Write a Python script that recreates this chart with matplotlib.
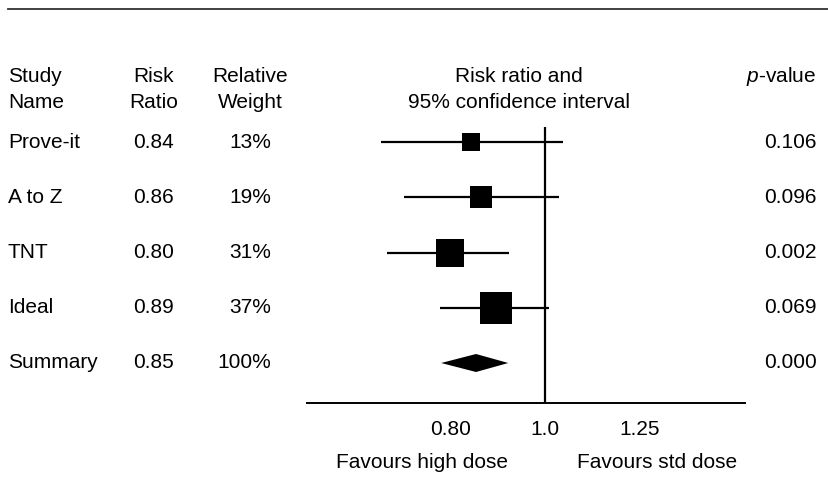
import numpy as np
import matplotlib
matplotlib.use("Agg")
import matplotlib.pyplot as plt
from matplotlib.lines import Line2D
from matplotlib.patches import Polygon
import matplotlib.transforms as mtransforms

# data
studies = ["Prove-it", "A to Z", "TNT", "Ideal"]
risk_ratio = [0.84, 0.86, 0.80, 0.89]
ci_low = [0.680, 0.718, 0.690, 0.781]
ci_high = [1.043, 1.033, 0.919, 1.009]
weights = [13, 19, 31, 37]
p_values = ["0.106", "0.096", "0.002", "0.069"]

summary_name = "Summary"
summary_rr = 0.85
summary_low = 0.783
summary_high = 0.917
summary_weight = 100
summary_p = "0.000"

tick_vals = [0.80, 1.0, 1.25]
tick_labels = ["0.80", "1.0", "1.25"]

plt.rcParams['font.family'] = ['Liberation Sans', 'DejaVu Sans']
plt.rcParams['mathtext.fontset'] = 'custom'
plt.rcParams['mathtext.rm'] = 'Liberation Sans'
plt.rcParams['mathtext.it'] = 'Liberation Sans:italic'

W, H = 829, 479
FS = 15.0
fig = plt.figure(figsize=(W / 100, H / 100), dpi=100)


def fx(x):
    return x / W


def fy(y):
    return 1 - y / H


# forest axes, pixel box 307..745 x 127..403
ax = fig.add_axes([fx(307), fy(403), fx(745) - fx(307), (403 - 127) / H])
ax.set_xscale("log")
ax.set_xlim(0.571, 1.601)
row_gap = 55.25
ax.set_ylim(4 + (403 - 363) / row_gap, -(142 - 127) / row_gap)

n = len(studies)
rows = np.arange(n)
for i in range(n):
    ax.plot([ci_low[i], ci_high[i]], [rows[i], rows[i]], color="black", lw=1.6,
            solid_capstyle="butt", zorder=2)
    size_px = 5.2 * np.sqrt(weights[i])
    ax.plot(risk_ratio[i], rows[i], marker="s", color="black",
            markersize=size_px * 0.72, markeredgewidth=0, zorder=3)

# summary diamond
ys = n
half_h = 9 / row_gap
ax.add_patch(Polygon([[summary_low, ys], [summary_rr, ys - half_h],
                      [summary_high, ys], [summary_rr, ys + half_h]],
                     closed=True, color="black", lw=0, zorder=3))

ax.axvline(1.0, color="black", lw=1.6, zorder=1)

for s in ["top", "right", "left"]:
    ax.spines[s].set_visible(False)
ax.spines["bottom"].set_linewidth(1.4)
ax.set_yticks([])
ax.xaxis.set_minor_locator(matplotlib.ticker.NullLocator())
ax.set_xticks(tick_vals)
ax.set_xticklabels(tick_labels, fontsize=FS)
ax.tick_params(axis="x", length=0, pad=12)

# text columns: x in figure, y in row data
tr = mtransforms.blended_transform_factory(fig.transFigure, ax.transData)
all_names = studies + [summary_name]
all_rr = ["%.2f" % v for v in risk_ratio] + ["%.2f" % summary_rr]
all_w = ["%d%%" % v for v in weights] + ["%d%%" % summary_weight]
all_p = p_values + [summary_p]
for i in range(n + 1):
    ax.text(fx(8), i, all_names[i], transform=tr, ha="left", va="center", fontsize=FS)
    ax.text(fx(154), i, all_rr[i], transform=tr, ha="center", va="center", fontsize=FS)
    ax.text(fx(271), i, all_w[i], transform=tr, ha="right", va="center", fontsize=FS)
    ax.text(fx(817), i, all_p[i], transform=tr, ha="right", va="center", fontsize=FS)

# headers
fig.text(fx(8), fy(76), "Study", ha="left", va="center", fontsize=FS)
fig.text(fx(8), fy(103), "Name", ha="left", va="center", fontsize=FS)
fig.text(fx(154), fy(76), "Risk", ha="center", va="center", fontsize=FS)
fig.text(fx(154), fy(103), "Ratio", ha="center", va="center", fontsize=FS)
fig.text(fx(250), fy(76), "Relative", ha="center", va="center", fontsize=FS)
fig.text(fx(250), fy(103), "Weight", ha="center", va="center", fontsize=FS)
fig.text(fx(519), fy(76), "Risk ratio and", ha="center", va="center", fontsize=FS)
fig.text(fx(519), fy(103), "95% confidence interval", ha="center", va="center", fontsize=FS)
fig.text(fx(816), fy(76), r"$p$-value", ha="right", va="center", fontsize=FS)

# bottom labels
fig.text(fx(422), fy(462), "Favours high dose", ha="center", va="center", fontsize=FS)
fig.text(fx(657), fy(462), "Favours std dose", ha="center", va="center", fontsize=FS)

# top rule
fig.add_artist(Line2D([fx(8), fx(829)], [fy(9), fy(9)], transform=fig.transFigure,
                      color="#333333", lw=1.3))

fig.savefig("out.png", dpi=100)
